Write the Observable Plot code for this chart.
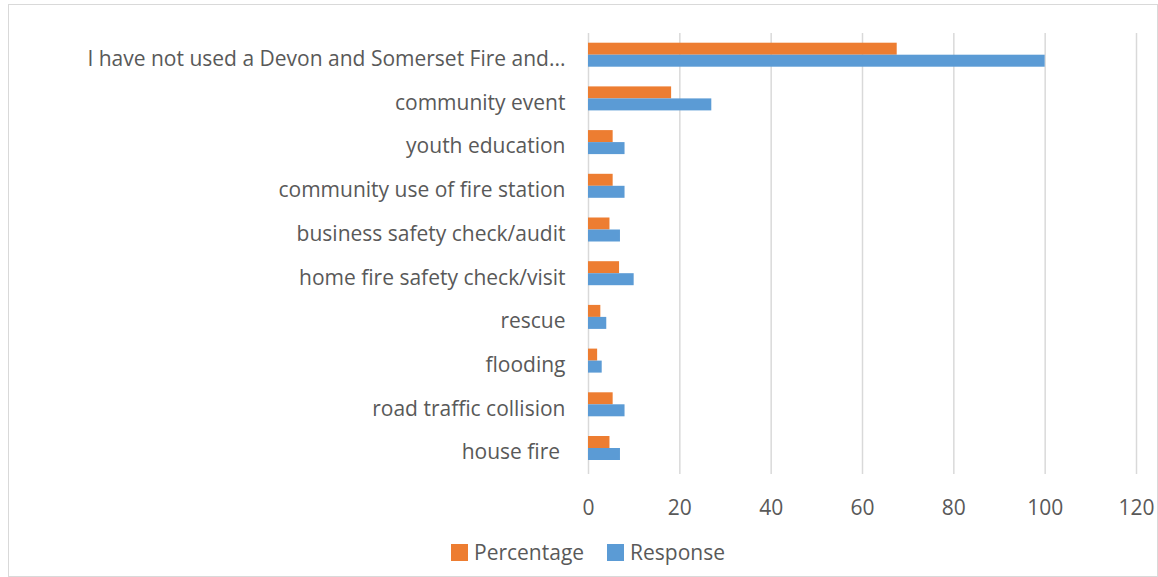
<!DOCTYPE html>
<html><head><meta charset="utf-8">
<script src="https://cdn.jsdelivr.net/npm/d3@7"></script>
<script src="https://cdn.jsdelivr.net/npm/@observablehq/plot@0.6"></script>
<style>
body{margin:0;background:#fff;font-family:"Open Sans",sans-serif;}
#frame{position:absolute;left:8px;top:4px;width:1150px;height:573px;border:1px solid #d9d9d9;box-sizing:border-box;overflow:hidden;}
#chart{position:absolute;left:0;top:0;}
#legend{position:absolute;left:442px;top:533px;display:flex;align-items:center;font-size:21px;color:#595959;white-space:nowrap;}
.item{display:flex;align-items:center;margin-right:23px;}
.sw{width:17px;height:17px;margin-right:6px;}
</style></head>
<body><div id="frame"><div id="chart"></div><div id="legend"></div></div>
<script>
const categories = [
  "I have not used a Devon and Somerset Fire and...",
  "community event",
  "youth education",
  "community use of fire station",
  "business safety check/audit",
  "home fire safety check/visit",
  "rescue",
  "flooding",
  "road traffic collision",
  "house fire\u00a0"
];
const responses = [100, 27, 8, 8, 7, 10, 4, 3, 8, 7];
const percentages = [67.6, 18.2, 5.4, 5.4, 4.7, 6.8, 2.7, 2.0, 5.4, 4.7];
const xTicks = [0, 20, 40, 60, 80, 100, 120];
const seriesNames = ["Percentage", "Response"];
const seriesColors = ["#ED7D31", "#5B9BD5"];

const rows = categories.map((c, i) => ({category: c, Percentage: percentages[i], Response: responses[i]}));

const chart = Plot.plot({
  width: 1148, height: 525,
  marginLeft: 579, marginRight: 21, marginTop: 28, marginBottom: 60,
  style: {fontFamily: "'Open Sans', sans-serif", fontSize: "21px", color: "#595959", background: "transparent"},
  x: {domain: [0, 120], ticks: xTicks, label: null},
  y: {domain: categories, padding: 0, round: false, label: null},
  marks: [
    Plot.ruleX(xTicks, {stroke: "#d9d9d9", strokeWidth: 1.5, insetBottom: -4}),
    Plot.barX(rows, {y: "category", x: "Percentage", fill: seriesColors[0], insetTop: 9.7, insetBottom: 22}),
    Plot.barX(rows, {y: "category", x: "Response", fill: seriesColors[1], insetTop: 21.7, insetBottom: 10}),
    Plot.axisY({tickSize: 0, tickPadding: 23, dy: 4, label: null}),
    Plot.axisX({ticks: xTicks, tickSize: 0, tickPadding: 30, label: null})
  ]
});
document.getElementById("chart").appendChild(chart);

const legend = document.getElementById("legend");
seriesNames.forEach((n, i) => {
  const it = document.createElement("div");
  it.className = "item";
  const sw = document.createElement("span");
  sw.className = "sw";
  sw.style.background = seriesColors[i];
  const t = document.createElement("span");
  t.textContent = n;
  it.appendChild(sw); it.appendChild(t);
  legend.appendChild(it);
});
</script>
</body></html>
